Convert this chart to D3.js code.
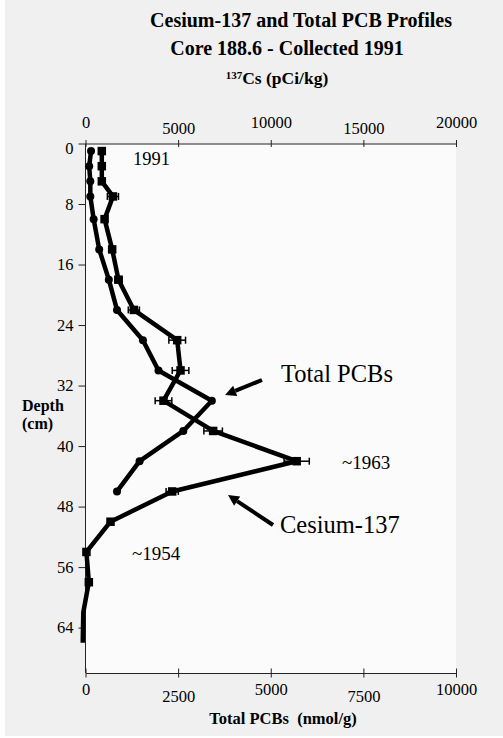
<!DOCTYPE html>
<html>
<head>
<meta charset="utf-8">
<script src="https://cdn.jsdelivr.net/npm/d3@7"></script>
<style>
  body { margin: 0; background: #ffffff; }
  svg { display: block; }
  text { font-family: "Liberation Serif", "Times New Roman", serif; fill: #000; }
</style>
</head>
<body>
<svg id="chart" width="503" height="738"></svg>
<script>
// Tick values for the three axes
const depthTicks = [0, 8, 16, 24, 32, 40, 48, 56, 64];
const pcbTicks = [0, 2500, 5000, 7500, 10000];
const csTicks = [0, 5000, 10000, 15000, 20000];

// Total PCB profile (nmol/g) by depth (cm)
const pcbDepth = [1, 3, 5, 7, 10, 14, 18, 22, 26, 30, 34, 38, 42, 46];
const pcbValues = [150, 100, 130, 130, 220, 370, 630, 850, 1550, 1970, 3410, 2640, 1460, 850];

// Cesium-137 profile (pCi/kg) by depth (cm), with counting error
const csDepth = [1, 3, 5, 7, 10, 14, 18, 22, 26, 30, 34, 38, 42, 46, 50, 54, 58, 62, 66];
const csValues = [880, 880, 880, 1480, 1030, 1440, 1780, 2610, 4950, 5130, 4210, 6890, 11400, 4680, 1350, 50, 180, -120, -150];
const csError = [100, 100, 100, 300, 150, 150, 200, 300, 450, 450, 450, 500, 680, 330, 150, 80, 80, 0, 0];

const pcb = pcbDepth.map((d, i) => ({ depth: d, value: pcbValues[i] }));
const cs = csDepth.map((d, i) => ({ depth: d, value: csValues[i], err: csError[i] }));

const svg = d3.select("#chart");
const plot = { left: 85.5, right: 456, top: 143.5, bottom: 673 };

const y = d3.scaleLinear().domain([0, 70]).range([plot.top, plot.bottom]);
const xPcb = d3.scaleLinear().domain([0, 10000]).range([plot.left, plot.right]);
const xCs = d3.scaleLinear().domain([0, 20000]).range([plot.left, plot.right]);

// Backgrounds
svg.append("rect").attr("x", 5).attr("y", 0).attr("width", 498).attr("height", 736).attr("fill", "#f0f0f0");
svg.append("rect")
  .attr("x", plot.left).attr("y", plot.top)
  .attr("width", plot.right - plot.left).attr("height", plot.bottom - plot.top)
  .attr("fill", "#fbfbfb");

// Titles
const titles = svg.append("g").attr("font-weight", "bold");
titles.append("text").attr("x", 301).attr("y", 27).attr("text-anchor", "middle")
  .attr("font-size", 20).text("Cesium-137 and Total PCB Profiles");
titles.append("text").attr("x", 287).attr("y", 55).attr("text-anchor", "middle")
  .attr("font-size", 20).text("Core 188.6 - Collected 1991");
const sub = titles.append("text").attr("x", 277).attr("y", 84).attr("text-anchor", "middle")
  .attr("font-size", 17.5);
sub.append("tspan").attr("font-size", 11).attr("dy", -5).text("137");
sub.append("tspan").attr("dy", 5).text("Cs (pCi/kg)");

// Top axis: Cs-137
const topAxis = svg.append("g").attr("transform", `translate(0,${plot.top})`)
  .call(d3.axisTop(xCs).tickValues(csTicks).tickSize(4).tickSizeOuter(0).tickFormat(d3.format("d")));
topAxis.selectAll(".tick line").attr("y1", -3.5).attr("y2", 3.5);
topAxis.selectAll(".tick text").attr("font-size", 16.5).attr("dy", null)
  .attr("y", (d, i) => i % 2 ? -9.5 : -15.5);

// Bottom axis: Total PCBs
const bottomAxis = svg.append("g").attr("transform", `translate(0,${plot.bottom})`)
  .call(d3.axisBottom(xPcb).tickValues(pcbTicks).tickSize(4).tickSizeOuter(0).tickFormat(d3.format("d")));
bottomAxis.selectAll(".tick line").attr("y1", -4.5).attr("y2", 4.5);
bottomAxis.selectAll(".tick text").attr("font-size", 16.5).attr("dy", null)
  .attr("y", (d, i) => i % 2 ? 28.5 : 22);

// Left axis: depth
const leftAxis = svg.append("g").attr("transform", `translate(${plot.left},0)`)
  .call(d3.axisLeft(y).tickValues(depthTicks).tickSize(7).tickPadding(5).tickSizeOuter(0));
leftAxis.select(".domain").attr("d", `M0,${plot.top}V${plot.bottom}`);
leftAxis.selectAll(".tick text").attr("font-size", 16.5)
  .attr("dy", d => d === 0 ? "0.6em" : "0.32em");

svg.selectAll(".domain, .tick line").attr("stroke", "#222").attr("stroke-width", 1);
svg.selectAll(".tick text").attr("fill", "#000").attr("font-family", "Liberation Serif, Times New Roman, serif");

// Axis titles
const depthLabel = svg.append("g").attr("font-weight", "bold").attr("font-size", 16);
depthLabel.append("text").attr("x", 22).attr("y", 411).text("Depth");
depthLabel.append("text").attr("x", 22).attr("y", 429).text("(cm)");
svg.append("text").attr("x", 283).attr("y", 724).attr("text-anchor", "middle")
  .attr("font-weight", "bold").attr("font-size", 16.5)
  .attr("xml:space", "preserve").style("white-space", "pre")
  .text("Total PCBs  (nmol/g)");

// Profile lines
const pcbLine = d3.line().x(d => xPcb(d.value)).y(d => y(d.depth));
const csLine = d3.line().x(d => xCs(d.value)).y(d => y(d.depth));

svg.append("path").datum(cs).attr("d", csLine)
  .attr("fill", "none").attr("stroke", "#000").attr("stroke-width", 4.5)
  .attr("stroke-linejoin", "round");
svg.append("path").datum(pcb).attr("d", pcbLine)
  .attr("fill", "none").attr("stroke", "#000").attr("stroke-width", 4.5)
  .attr("stroke-linejoin", "round");

// Cs-137 error bars
const eb = svg.append("g").attr("stroke", "#000").attr("stroke-width", 1.5);
cs.filter(d => d.err > 0).forEach(d => {
  const yy = y(d.depth), x0 = xCs(d.value - d.err), x1 = xCs(d.value + d.err);
  eb.append("line").attr("x1", x0).attr("x2", x1).attr("y1", yy).attr("y2", yy);
  eb.append("line").attr("x1", x0).attr("x2", x0).attr("y1", yy - 3.5).attr("y2", yy + 3.5);
  eb.append("line").attr("x1", x1).attr("x2", x1).attr("y1", yy - 3.5).attr("y2", yy + 3.5);
});

// Markers (only for positive Cs-137 readings; below-detection samples are line only)
const sq = 8.5;
svg.append("g")
  .selectAll("rect").data(cs.filter(d => d.value > 0)).join("rect")
  .attr("x", d => xCs(d.value) - sq / 2).attr("y", d => y(d.depth) - sq / 2)
  .attr("width", sq).attr("height", sq).attr("fill", "#000");
svg.append("g").selectAll("circle").data(pcb).join("circle")
  .attr("cx", d => xPcb(d.value)).attr("cy", d => y(d.depth))
  .attr("r", 4).attr("fill", "#000");

// Annotations
function arrow(x1, y1, x2, y2) {
  const a = Math.atan2(y2 - y1, x2 - x1);
  const len = 11, half = 5.5;
  const bx = x2 - len * Math.cos(a), by = y2 - len * Math.sin(a);
  svg.append("line").attr("x1", x1).attr("y1", y1).attr("x2", bx).attr("y2", by)
    .attr("stroke", "#000").attr("stroke-width", 4);
  const pts = [
    [x2, y2],
    [bx + half * Math.sin(a), by - half * Math.cos(a)],
    [bx - half * Math.sin(a), by + half * Math.cos(a)]
  ];
  svg.append("polygon").attr("points", pts.map(p => p.join(",")).join(" ")).attr("fill", "#000");
}
arrow(262, 380, 225, 395);
arrow(273, 525, 228, 495);

svg.append("text").attr("x", 281).attr("y", 382).attr("font-size", 24.5).text("Total PCBs");
svg.append("text").attr("x", 280).attr("y", 533).attr("font-size", 24.5).text("Cesium-137");
svg.append("text").attr("x", 342).attr("y", 469).attr("font-size", 19).text("~1963");
svg.append("text").attr("x", 132).attr("y", 560).attr("font-size", 19).text("~1954");
svg.append("text").attr("x", 133).attr("y", 165).attr("font-size", 18.5).text("1991");
</script>
</body>
</html>
